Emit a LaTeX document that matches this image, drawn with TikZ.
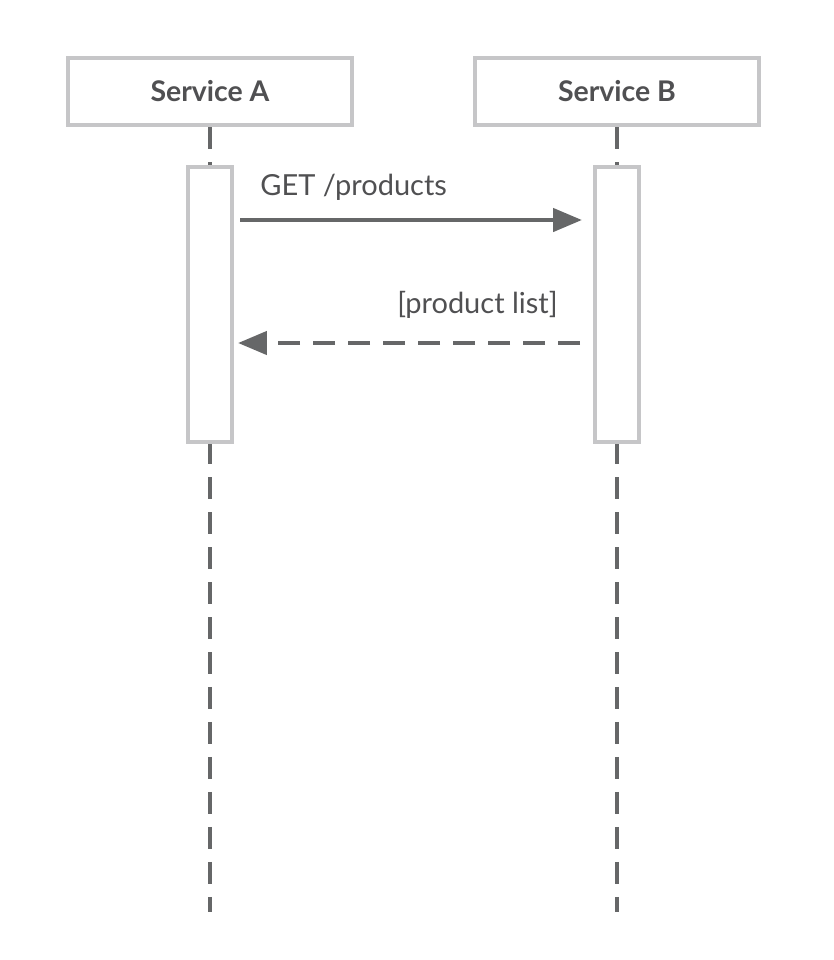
\documentclass[tikz,border=0pt]{standalone}
\usepackage{fontspec}
\setmainfont{Lato}
\usetikzlibrary{arrows.meta, positioning}
\definecolor{boxgray}{HTML}{C6C6C8}
\definecolor{linegray}{HTML}{666768}
\definecolor{textgray}{HTML}{505052}
\tikzstyle{actor}=[draw=boxgray, line width=2.4pt, fill=white, minimum width=5.68cm, minimum height=1.34cm, inner sep=0pt, text=textgray, font=\fontsize{16.2}{19}\selectfont\bfseries]
\tikzstyle{activation}=[draw=boxgray, line width=2.4pt, fill=white, minimum width=0.88cm, minimum height=5.5cm, inner sep=0pt]
\tikzstyle{lifeline}=[linegray, line width=2.2pt, dash pattern=on 0.44cm off 0.26cm]
\tikzstyle{msg}=[linegray, line width=2.6pt, -{Triangle[length=0.58cm, width=0.46cm]}]
\tikzstyle{msglabel}=[text=textgray, inner sep=0pt, font=\fontsize{16.5}{20}\selectfont]

\begin{document}
\begin{tikzpicture}[x=0.02cm, y=-0.02cm]
\useasboundingbox (0,0) rectangle (834,960);
% lifelines first, boxes drawn over them
\coordinate (endA) at (210,912); \coordinate (endB) at (617,912);
\node [actor] (A) at (210,91.5) {Service A};
\node [actor] (B) at (617,91.5) {Service B};
\draw [lifeline] (A.south) -- (endA);
\draw [lifeline] (B.south) -- (endB);
\node [activation] (actA) at (210,304.5) {};
\node [activation] (actB) at (617,304.5) {};
% messages
\coordinate (getA) at (240,220); \coordinate (getB) at (582,220);
\coordinate (retB) at (580,343); \coordinate (retA) at (238,343);
\draw [msg] (getA) -- (getB);
\draw [msg, dash pattern=on 0.44cm off 0.26cm] (retB) -- (retA);
\node [msglabel, anchor=base west] (get) at (260,195) {GET /products};
\node [msglabel, anchor=base east] (ret) at (558,313) {[product list]};
\end{tikzpicture}
\end{document}
